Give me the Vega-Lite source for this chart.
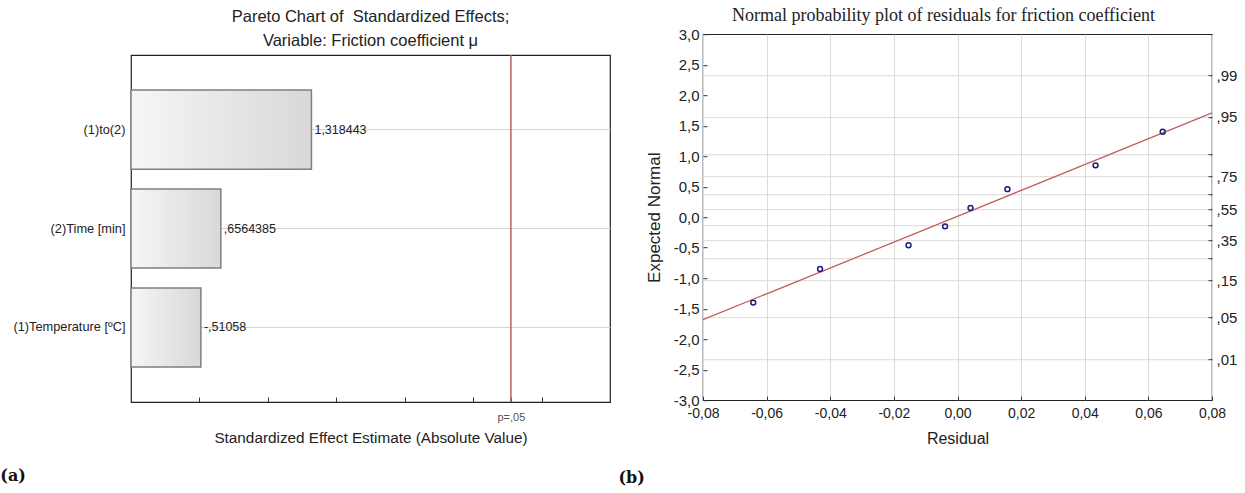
{
  "$schema": "https://vega.github.io/schema/vega-lite/v6.json",
  "padding": {"left": 0, "top": 6, "right": 0, "bottom": 0},
  "spacing": 7,
  "center": true,
  "config": {
    "font": "Liberation Sans",
    "view": {"stroke": "#222", "strokeWidth": 1.2},
    "axis": {"labelColor": "#222", "titleColor": "#222", "titleFontWeight": "normal", "tickColor": "#333"}
  },
  "hconcat": [
    {
      "title": {"text": "(a)", "orient": "bottom", "anchor": "start", "font": "DejaVu Serif", "fontWeight": "bold", "fontSize": 16, "color": "#111", "offset": 22, "dx": -12},
      "vconcat": [
        {
          "width": 479,
          "height": 347,
          "title": {"text": ["Pareto Chart of\u00a0 Standardized Effects;", "Variable: Friction coefficient μ"], "font": "Liberation Sans", "fontSize": 16.5, "fontWeight": "normal", "color": "#222", "lineHeight": 24, "offset": 5, "frame": "group"},
          "data": {"values": [
            {"effect": "(1)to(2)", "abs": 1.318443, "label": "1,318443"},
            {"effect": "(2)Time [min]", "abs": 0.6564385, "label": ",6564385"},
            {"effect": "(1)Temperature [ºC]", "abs": 0.51058, "label": "-,51058"}
          ]},
          "layer": [
            {
              "mark": {"type": "bar", "stroke": "#7f7f7f", "strokeWidth": 1.5,
                "color": {"gradient": "linear", "x1": 0, "y1": 0, "x2": 1, "y2": 0, "stops": [{"offset": 0, "color": "#f6f6f6"}, {"offset": 1, "color": "#d8d8d8"}]}},
              "encoding": {
                "y": {"field": "effect", "type": "nominal", "sort": null,
                  "scale": {"paddingInner": 0.2, "paddingOuter": 0.354},
                  "axis": {"title": null, "labelFontSize": 12.8, "labelPadding": 6, "ticks": false, "domain": false, "grid": true, "gridColor": "#d4d4d4", "bandPosition": 0.5}},
                "x": {"field": "abs", "type": "quantitative",
                  "scale": {"domain": [0, 3.5], "nice": false},
                  "axis": {"values": [0.5, 1, 1.5, 2, 2.5, 2.776, 3], "labelExpr": "datum.value > 2.7 && datum.value < 2.8 ? 'p=,05' : ''", "labelFontSize": 11, "labelColor": "#555", "labelOverlap": false, "labelFlush": false, "grid": false, "domain": false, "tickSize": -5, "labelPadding": 14, "title": "Standardized Effect Estimate (Absolute Value)", "titleFontSize": 15.3, "titlePadding": 8}}
              }
            },
            {
              "mark": {"type": "text", "align": "left", "baseline": "middle", "dx": 3, "fontSize": 12.5, "color": "#222"},
              "encoding": {
                "y": {"field": "effect", "type": "nominal", "sort": null},
                "x": {"field": "abs", "type": "quantitative"},
                "text": {"field": "label"}
              }
            },
            {
              "data": {"values": [{"crit": 2.776}]},
              "mark": {"type": "rule", "color": "#c0605e", "strokeWidth": 1.5},
              "encoding": {"x": {"field": "crit", "type": "quantitative"}}
            }
          ]
        }
      ]
    },
    {
      "title": {"text": ["(b)", " "], "orient": "bottom", "anchor": "start", "font": "DejaVu Serif", "fontWeight": "bold", "fontSize": 16, "lineHeight": 19, "color": "#111", "offset": 23, "dx": -26},
      "vconcat": [
        {
          "width": 509,
          "height": 366,
          "title": {"text": "Normal probability plot of residuals for friction coefficient", "font": "Liberation Serif", "fontSize": 18, "fontWeight": "normal", "color": "#222", "offset": 2, "dx": -14},
          "resolve": {"axis": {"y": "independent"}},
          "layer": [
            {
              "data": {"values": [
                {"residual": -0.08, "expected": -1.68},
                {"residual": 0.08, "expected": 1.71}
              ]},
              "mark": {"type": "line", "color": "#c0605e", "strokeWidth": 1.3},
              "encoding": {
                "x": {"field": "residual", "type": "quantitative",
                  "scale": {"domain": [-0.08, 0.08], "nice": false},
                  "axis": {"values": [-0.08, -0.06, -0.04, -0.02, 0, 0.02, 0.04, 0.06, 0.08], "labelExpr": "replace(replace(format(datum.value, '.2f'), '.', ','), '−', '-')", "labelFontSize": 14, "labelFlush": false, "labelOverlap": false, "grid": true, "gridColor": "#dadada", "domain": false, "tickSize": -4, "labelPadding": 10, "title": "Residual", "titleFontSize": 16, "titlePadding": 10}},
                "y": {"field": "expected", "type": "quantitative",
                  "scale": {"domain": [-3, 3], "nice": false},
                  "axis": {"orient": "right", "title": null, "values": [-2.326, -1.645, -1.036, -0.674, -0.385, -0.126, 0.126, 0.385, 0.674, 1.036, 1.645, 2.326],
                    "labelExpr": "datum.value < -2 ? ',01' : datum.value < -1.5 ? ',05' : datum.value < -1 ? ',15' : datum.value < -0.5 ? '' : datum.value < -0.3 ? ',35' : datum.value < 0 ? '' : datum.value < 0.3 ? ',55' : datum.value < 0.5 ? '' : datum.value < 0.9 ? ',75' : datum.value < 1.5 ? '' : datum.value < 2 ? ',95' : ',99'",
                    "labelFontSize": 15, "labelOverlap": false, "grid": true, "gridColor": "#dadada", "domain": false, "tickSize": -4, "labelPadding": 8}}
              }
            },
            {
              "data": {"values": [
                {"residual": -0.0642, "expected": -1.40},
                {"residual": -0.0432, "expected": -0.85},
                {"residual": -0.0154, "expected": -0.46},
                {"residual": -0.0039, "expected": -0.15},
                {"residual": 0.0041, "expected": 0.15},
                {"residual": 0.0157, "expected": 0.46},
                {"residual": 0.0434, "expected": 0.85},
                {"residual": 0.0645, "expected": 1.40}
              ]},
              "mark": {"type": "point", "shape": "circle", "filled": false, "color": "#1e1e78", "size": 24, "strokeWidth": 1.5, "opacity": 1},
              "encoding": {
                "x": {"field": "residual", "type": "quantitative"},
                "y": {"field": "expected", "type": "quantitative",
                  "axis": {"orient": "left", "values": [-3, -2.5, -2, -1.5, -1, -0.5, 0, 0.5, 1, 1.5, 2, 2.5, 3], "labelExpr": "replace(replace(format(datum.value, '.1f'), '.', ','), '−', '-')", "labelFontSize": 15, "labelOverlap": false, "grid": false, "domain": false, "tickSize": -4, "labelPadding": 8, "title": "Expected Normal", "titleFontSize": 17, "titlePadding": 10}}
              }
            }
          ]
        }
      ]
    }
  ]
}
